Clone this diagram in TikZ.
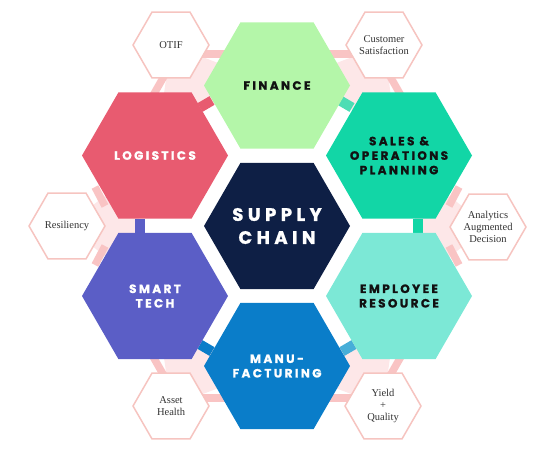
\documentclass[tikz,border=0pt]{standalone}
\usepackage{fontspec}
\usetikzlibrary{shapes.geometric,calc,backgrounds}
\newfontfamily\hexfont{Poppins}[LetterSpace=20, BoldFeatures={FakeBold=1.2}]
\newfontfamily\corefont{Poppins}[LetterSpace=25, BoldFeatures={FakeBold=1.5}]
\newfontfamily\notefont{Liberation Serif}
\definecolor{cfin}{HTML}{B4F6A9}
\definecolor{clog}{HTML}{E85B70}
\definecolor{csales}{HTML}{12D6A6}
\definecolor{csalestab}{HTML}{4DDDB4}
\definecolor{cemp}{HTML}{7CE8D6}
\definecolor{cmanu}{HTML}{0A7DC9}
\definecolor{cmanutab}{HTML}{47AED8}
\definecolor{csmart}{HTML}{5B5EC6}
\definecolor{ccore}{HTML}{0E1F45}
\definecolor{cpale}{HTML}{FDE7E8}
\definecolor{cstripe}{HTML}{F9C4C4}
\definecolor{coutline}{HTML}{F6C4C0}
\definecolor{cdark}{HTML}{111111}
\definecolor{cnote}{HTML}{333333}
\tikzset{
  bighex/.style={regular polygon, regular polygon sides=6, minimum size=146pt,
    inner sep=0pt, outer sep=0pt},
  bigtext/.style={inner sep=0pt, align=center, font={\hexfont\bfseries\fontsize{12}{14.5}\selectfont}},
  coretext/.style={inner sep=0pt, align=center, font={\corefont\bfseries\fontsize{18}{23}\selectfont}},
  notehex/.style={regular polygon, regular polygon sides=6, minimum size=76pt,
    inner sep=0pt, outer sep=0pt, fill=white, draw=coutline, line width=1.5pt},
  notetext/.style={inner sep=0pt, align=center, text=cnote,
    font={\notefont\fontsize{10.5}{12}\selectfont}},
  stripe/.style={draw=cstripe, line width=7.5pt},
  tab/.style={line width=10pt},
  pale/.style={fill=cpale}
}
\begin{document}
\begin{tikzpicture}[x=1pt,y=-1pt]
\useasboundingbox (0,0) rectangle (554,459);
% big hexagons
\node[bighex, fill=ccore] (core) at (277,226) {};
\node[bighex, fill=cfin] (fin) at (277,85.5) {};
\node[bighex, fill=csales] (sales) at (399,155.5) {};
\node[bighex, fill=cemp] (emp) at (399,296) {};
\node[bighex, fill=cmanu] (manu) at (277,366) {};
\node[bighex, fill=csmart] (smart) at (155,296) {};
\node[bighex, fill=clog] (log) at (155,155.5) {};
\node[coretext, text=white] (coreT) at (core.center) {SUPPLY\\CHAIN};
\node[bigtext, text=cdark] (finT) at (fin.center) {FINANCE};
\node[bigtext, text=cdark] (salesT) at (sales.center) {SALES \&\\OPERATIONS\\PLANNING};
\node[bigtext, text=cdark] (empT) at (emp.center) {EMPLOYEE\\RESOURCE};
\node[bigtext, text=white] (manuT) at (manu.center) {MANU-\\FACTURING};
\node[bigtext, text=white] (smartT) at (smart.center) {SMART\\TECH};
\node[bigtext, text=white] (logT) at (log.center) {LOGISTICS};
% small hexagons
\node[notehex] (otif) at (171,45) {};
\node[notehex] (cust) at (384,45) {};
\node[notehex] (res) at (67,226) {};
\node[notehex] (ana) at (488,227) {};
\node[notehex] (asset) at (171,406) {};
\node[notehex] (yield) at (383,406) {};
\node[notetext] (otifT) at (otif.center) {OTIF};
\node[notetext] (custT) at (cust.center) {Customer\\Satisfaction};
\node[notetext] (resT) at (res.center) {Resiliency};
\node[notetext] (anaT) at (ana.center) {Analytics\\Augmented\\Decision};
\node[notetext] (assetT) at (asset.center) {Asset\\Health};
\node[notetext] (yieldT) at (yield.center) {Yield\\+\\Quality};
\begin{scope}[on background layer]
  % pale regions
  \coordinate (m1) at ($(fin.center)!0.5!(log.center)$);
  \coordinate (m2) at ($(fin.center)!0.5!(sales.center)$);
  \coordinate (m3) at ($(log.center)!0.5!(smart.center)$);
  \coordinate (m4) at ($(sales.center)!0.5!(emp.center)$);
  \coordinate (m5) at ($(smart.center)!0.5!(manu.center)$);
  \coordinate (m6) at ($(emp.center)!0.5!(manu.center)$);
  \fill[pale] (otif.center) -- (fin.center) -- ($(otif.center)!0.8!(m1)$) -- (log.center) -- cycle;
  \fill[pale] (cust.center) -- (fin.center) -- ($(cust.center)!0.8!(m2)$) -- (sales.center) -- cycle;
  \fill[pale] (res.center) -- (log.center) -- ($(res.center)!0.8!(m3)$) -- (smart.center) -- cycle;
  \fill[pale] (ana.center) -- (sales.center) -- ($(ana.center)!0.8!(m4)$) -- (emp.center) -- cycle;
  \fill[pale] (asset.center) -- (smart.center) -- ($(asset.center)!0.8!(m5)$) -- (manu.center) -- cycle;
  \fill[pale] (yield.center) -- (emp.center) -- ($(yield.center)!0.8!(m6)$) -- (manu.center) -- cycle;
  % stripes
  \draw[stripe] ($(otif.center)+(24,9)$) -- ($(fin.center)+(-42,-31.5)$);
  \draw[stripe] ($(otif.center)+(4,12)$) -- ($(log.center)+(-8,-49.5)$);
  \draw[stripe] ($(cust.center)+(-25,9)$) -- ($(fin.center)+(42,-31.5)$);
  \draw[stripe] ($(cust.center)+(-5,12)$) -- ($(sales.center)+(8,-49.5)$);
  \draw[stripe] ($(res.center)+(28,-39)$) -- ($(log.center)+(-50,50.5)$);
  \draw[stripe] ($(res.center)+(28,39)$) -- ($(smart.center)+(-50,-50)$);
  \draw[stripe] ($(ana.center)+(-29,-40)$) -- ($(sales.center)+(50,50.5)$);
  \draw[stripe] ($(ana.center)+(-29,38)$) -- ($(emp.center)+(50,-50)$);
  \draw[stripe] ($(asset.center)+(24,-8)$) -- ($(manu.center)+(-42,32)$);
  \draw[stripe] ($(asset.center)+(4,-11)$) -- ($(smart.center)+(-8,50)$);
  \draw[stripe] ($(yield.center)+(-24,-8)$) -- ($(manu.center)+(42,32)$);
  \draw[stripe] ($(yield.center)+(-4,-11)$) -- ($(emp.center)+(8,50)$);
  % tabs between big hexagons
  \draw[tab, clog] ($(log.center)+(45,-48)$) -- ($(fin.center)+(-65,15)$);
  \draw[tab, csalestab] ($(sales.center)+(-47,-48)$) -- ($(fin.center)+(63,15)$);
  \draw[tab, csmart] ($(smart.center)+(-15,-63)$) -- ($(log.center)+(-15,63.5)$);
  \draw[tab, csales] ($(sales.center)+(19,63.5)$) -- ($(emp.center)+(19,-63)$);
  \draw[tab, cmanu] ($(manu.center)+(-65,-14.5)$) -- ($(smart.center)+(45,48.5)$);
  \draw[tab, cmanutab] ($(manu.center)+(65,-14.5)$) -- ($(emp.center)+(-45,48.5)$);
\end{scope}
\end{tikzpicture}
\end{document}
